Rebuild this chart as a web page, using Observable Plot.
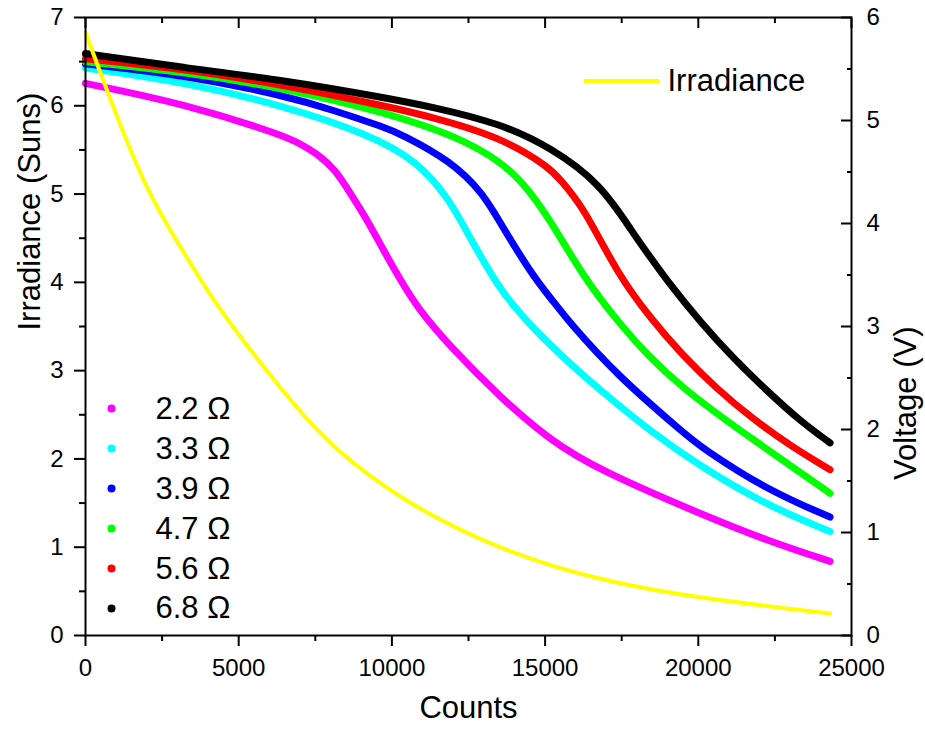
<!DOCTYPE html>
<html>
<head>
<meta charset="utf-8">
<script src="https://cdn.jsdelivr.net/npm/d3@7"></script>
<script src="https://cdn.jsdelivr.net/npm/@observablehq/plot@0.6"></script>
<style>
  html, body { margin: 0; padding: 0; background: #fff; }
  #chart svg { display: block; }
</style>
</head>
<body>
<div id="chart"></div>
<script>
// ---- Irradiance (left axis, Suns) ----
const irrCounts = [0, 881, 2023, 3166, 4178, 5222, 6952, 8061, 10281, 13544, 16808, 20072, 24300];
const irrSuns   = [6.83, 6.00, 5.01, 4.36, 3.79, 3.30, 2.55, 2.13, 1.53, 0.96, 0.62, 0.42, 0.25];

// ---- Voltage series (right axis, V) ----
const counts_22 = [0, 3264, 6527, 7017, 7600, 8159, 8649, 9204, 9726, 10281, 10835, 11912, 13544, 15176, 16808, 20072, 22258, 24300];
const volts_22  = [5.36, 5.16, 4.85, 4.77, 4.67, 4.52, 4.29, 4.03, 3.74, 3.45, 3.18, 2.80, 2.31, 1.89, 1.60, 1.18, 0.92, 0.72];

const counts_33 = [0, 3264, 6527, 9204, 10835, 11912, 12467, 13544, 14099, 14621, 15731, 16808, 18440, 20072, 22258, 24300];
const volts_33  = [5.51, 5.37, 5.14, 4.87, 4.61, 4.22, 3.90, 3.35, 3.16, 2.98, 2.66, 2.38, 1.98, 1.64, 1.26, 1.01];

const counts_39 = [0, 3264, 6527, 8094, 9791, 10281, 11912, 12990, 13544, 14621, 15176, 15731, 17363, 19517, 20072, 22258, 24300];
const volts_39  = [5.55, 5.44, 5.24, 5.10, 4.93, 4.87, 4.61, 4.29, 4.00, 3.48, 3.28, 3.06, 2.52, 1.97, 1.83, 1.41, 1.15];

const counts_47 = [0, 3264, 6527, 9791, 12467, 14099, 15176, 16253, 17363, 18440, 19517, 20627, 21703, 23009, 24300];
const volts_47  = [5.57, 5.47, 5.31, 5.08, 4.81, 4.49, 4.03, 3.48, 3.05, 2.69, 2.40, 2.15, 1.92, 1.65, 1.38];

const counts_56 = [0, 3264, 6527, 9791, 11358, 13544, 15176, 15503, 16253, 17363, 18440, 19517, 20627, 21703, 23009, 24300];
const volts_56  = [5.60, 5.50, 5.34, 5.14, 5.03, 4.84, 4.54, 4.42, 4.16, 3.51, 3.08, 2.71, 2.39, 2.12, 1.84, 1.61];

const counts_68 = [0, 3264, 6527, 9791, 11358, 13544, 15176, 16808, 17885, 18440, 18995, 20072, 21149, 22258, 23335, 24300];
const volts_68  = [5.65, 5.51, 5.39, 5.22, 5.13, 4.97, 4.74, 4.39, 3.90, 3.67, 3.44, 3.04, 2.69, 2.37, 2.08, 1.87];

const seriesLabels = ["2.2 Ω", "3.3 Ω", "3.9 Ω", "4.7 Ω", "5.6 Ω", "6.8 Ω"];
const seriesColors = ["#ff00ff", "#00ffff", "#0000ff", "#00ff00", "#ff0000", "#000000"];
const irrLabel = ["Irradiance"];

// ---- Tick labels ----
const xTicks = [0, 5000, 10000, 15000, 20000, 25000];
const xMinor = [2500, 7500, 12500, 17500, 22500];
const irrTicks = [0, 1, 2, 3, 4, 5, 6, 7];
const irrMinor = [0.5, 1.5, 2.5, 3.5, 4.5, 5.5, 6.5];
const voltTicks = [0, 1, 2, 3, 4, 5, 6];
const voltMinor = [0.5, 1.5, 2.5, 3.5, 4.5, 5.5];

// ---- Build tables ----
const IRR_MAX = 7, VOLT_MAX = 6;
const v2y = v => v * IRR_MAX / VOLT_MAX;   // map voltage onto left-axis scale

const seriesData = [
  [counts_22, volts_22], [counts_33, volts_33], [counts_39, volts_39],
  [counts_47, volts_47], [counts_56, volts_56], [counts_68, volts_68]
];
const voltRows = seriesData.flatMap(([c, v], s) =>
  c.map((cnt, i) => ({series: seriesLabels[s], count: cnt, volt: v[i]})));
const irrRows = irrCounts.map((c, i) => ({count: c, suns: irrSuns[i]}));

const font = "'Liberation Sans', Arial, Helvetica, sans-serif";

const chart = Plot.plot({
  width: 925,
  height: 733,
  marginLeft: 85,
  marginRight: 74,
  marginTop: 17,
  marginBottom: 98,
  style: {fontFamily: font, color: "black", background: "white", fontSize: "24px"},
  x: {domain: [0, 25000], label: null},
  y: {domain: [0, 7], label: null},
  color: {domain: seriesLabels, range: seriesColors},
  marks: [
    Plot.line(voltRows, {
      x: "count", y: d => v2y(d.volt), z: "series", stroke: "series",
      strokeWidth: 7, curve: "basis", strokeLinecap: "round", strokeLinejoin: "round"
    }),
    Plot.line(irrRows, {
      x: "count", y: "suns", stroke: "#ffff00", strokeWidth: 4, curve: "basis", strokeLinecap: "round"
    }),
    Plot.frame({stroke: "black", strokeWidth: 2}),
    // bottom axis
    Plot.axisX(xTicks, {anchor: "bottom", tickSize: 11, tickPadding: 12, strokeWidth: 2,
      fontSize: 24, tickFormat: d => String(d), label: null}),
    Plot.axisX(xMinor, {anchor: "bottom", tickSize: 6, strokeWidth: 2, tickFormat: () => "", label: null}),
    // top axis (inward ticks)
    Plot.axisX(xTicks, {anchor: "top", tickSize: -10, strokeWidth: 2, tickFormat: () => "", label: null}),
    Plot.axisX(xMinor, {anchor: "top", tickSize: -5, strokeWidth: 2, tickFormat: () => "", label: null}),
    // left axis
    Plot.axisY(irrTicks, {anchor: "left", tickSize: 11, tickPadding: 11, strokeWidth: 2,
      fontSize: 24, tickFormat: d => String(d), label: null}),
    Plot.axisY(irrMinor, {anchor: "left", tickSize: 6, strokeWidth: 2, tickFormat: () => "", label: null}),
    // right axis (voltage, inward ticks)
    Plot.axisY(voltTicks.map(v2y), {anchor: "right", tickSize: -11, tickPadding: 26, strokeWidth: 2,
      fontSize: 24, tickFormat: d => String(Math.round(d * VOLT_MAX / IRR_MAX)), label: null}),
    Plot.axisY(voltMinor.map(v2y), {anchor: "right", tickSize: -5, strokeWidth: 2, tickFormat: () => "", label: null}),
    // axis titles
    Plot.text(["Counts"], {frameAnchor: "bottom", dy: 82, fontSize: 31}),
    Plot.text(["Irradiance (Suns)"], {frameAnchor: "left", dx: -55, dy: 4, rotate: -90, fontSize: 31}),
    Plot.text(["Voltage (V)"], {frameAnchor: "right", dx: 55, rotate: -90, fontSize: 31}),
    // series legend
    Plot.dot(seriesLabels, {x: () => 849, y: (d, i) => 2.57 - i * 0.453, fill: d => d, r: 4}),
    Plot.text(seriesLabels, {x: () => 2285, y: (d, i) => 2.57 - i * 0.453, text: d => d,
      textAnchor: "start", fontSize: 31}),
    // irradiance legend
    Plot.ruleY(irrLabel, {y: () => 6.28, x1: () => 16286, x2: () => 18734, stroke: "#ffff00", strokeWidth: 4}),
    Plot.text(irrLabel, {x: () => 18995, y: () => 6.28, text: d => d, textAnchor: "start", fontSize: 31})
  ]
});

document.getElementById("chart").appendChild(chart);
</script>
</body>
</html>
